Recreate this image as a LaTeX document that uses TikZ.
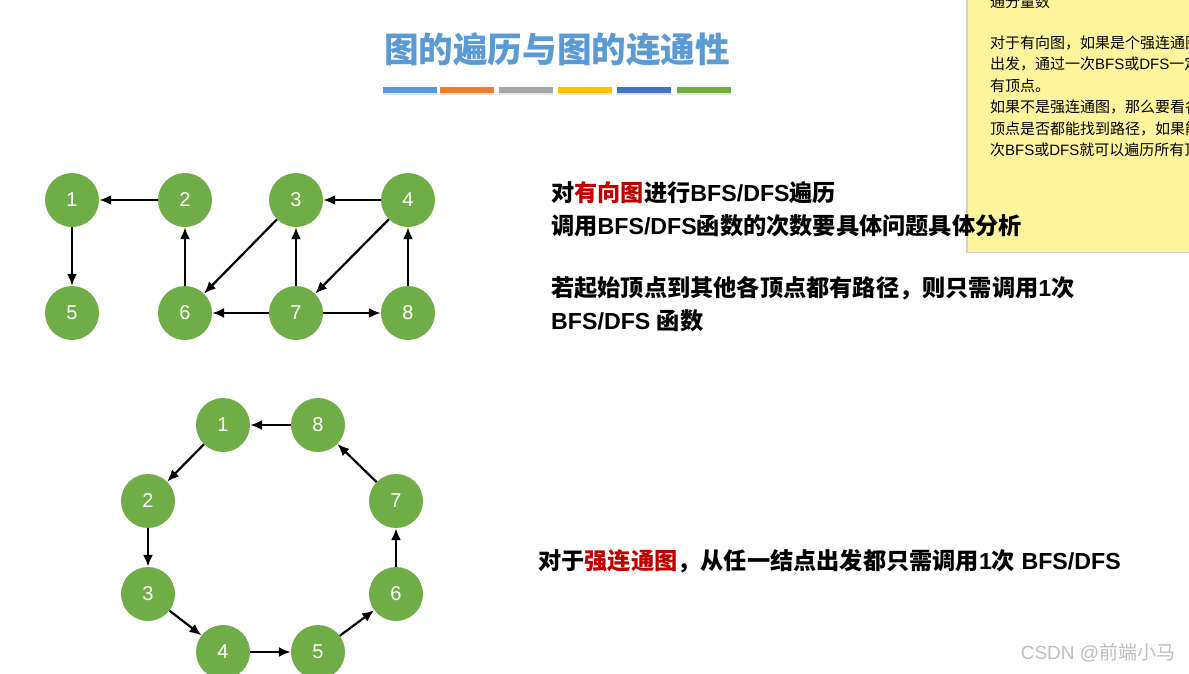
\documentclass[tikz,border=0pt]{standalone}
\usepackage{fontspec}
\setmainfont{Liberation Sans}
\newfontfamily\cjk{Noto Sans CJK SC}
\usetikzlibrary{arrows.meta}
\definecolor{gcol}{HTML}{70AD47}
\definecolor{tblue}{HTML}{5B9BD5}
\definecolor{tred}{HTML}{C00000}
\definecolor{bara}{HTML}{5B9BD5}
\definecolor{barb}{HTML}{ED7D31}
\definecolor{barc}{HTML}{A5A5A5}
\definecolor{bard}{HTML}{FFC000}
\definecolor{bare}{HTML}{4472C4}
\definecolor{barf}{HTML}{70AD47}
\definecolor{notey}{RGB}{255,244,158}
\definecolor{wmark}{RGB}{190,190,190}
\newcommand{\zh}[1]{{\cjk #1}}
\tikzset{
  gnode/.style={circle, fill=gcol, minimum size=54pt, inner sep=0pt, text=white,
    font=\fontsize{20}{24}\selectfont},
  arr/.style={-{Latex[length=12pt,width=10pt]}, line width=2.2pt, black},
  bodytext/.style={anchor=west, inner sep=0pt, font=\fontsize{23.2}{28}\selectfont\bfseries},
  notetext/.style={anchor=west, inner sep=0pt, font=\fontsize{15}{18}\selectfont\cjk},
  cbar/.style={minimum width=54pt, minimum height=6pt, inner sep=0pt},
}
\begin{document}
\begin{tikzpicture}[x=1pt,y=-1pt]
\useasboundingbox (0,0) rectangle (1189,673);
\fill[white] (0,0) rectangle (1189,673);

% title
\node[font=\fontsize{34.6}{40}\selectfont\cjk\bfseries, text=tblue, inner sep=0pt] (title) at (557,49) {图的遍历与图的连通性};

% colour bars
\foreach \i/\x/\c in {1/409.5/bara,2/467/barb,3/526/barc,4/585/bard,5/644/bare,6/703.5/barf}{
  \fill[black!10] (\x-27,88) rectangle (\x+27,95);
  \node[cbar, fill=\c] (bar\i) at (\x,89.5) {};
}

% sticky note
\fill[black!18] (966,0) rectangle (1189,253);
\fill[notey] (968,0) rectangle (1189,252);
\begin{scope}
\clip (968,0) rectangle (1189,252);
\node[notetext] (nl1) at (990,2) {通分量数};
\node[notetext] (nl2) at (990,42.5) {对于有向图，如果是个强连通图};
\node[notetext] (nl3) at (990,64) {出发，通过一次{\fontspec{Liberation Sans}BFS}或{\fontspec{Liberation Sans}DFS}一定};
\node[notetext] (nl4) at (990,85.5) {有顶点。};
\node[notetext] (nl5) at (990,107) {如果不是强连通图，那么要看各};
\node[notetext] (nl6) at (990,128.5) {顶点是否都能找到路径，如果能};
\node[notetext] (nl7) at (990,150) {次{\fontspec{Liberation Sans}BFS}或{\fontspec{Liberation Sans}DFS}就可以遍历所有顶};
\end{scope}

% graph 1
\node[gnode] (a1) at (72,200) {1};
\node[gnode] (a2) at (185,200) {2};
\node[gnode] (a3) at (296,200) {3};
\node[gnode] (a4) at (408,200) {4};
\node[gnode] (a5) at (72,313) {5};
\node[gnode] (a6) at (185,313) {6};
\node[gnode] (a7) at (296,313) {7};
\node[gnode] (a8) at (408,313) {8};
\draw[arr] (a2) -- (a1);
\draw[arr] (a1) -- (a5);
\draw[arr] (a6) -- (a2);
\draw[arr] (a3) -- (a6);
\draw[arr] (a4) -- (a3);
\draw[arr] (a4) -- (a7);
\draw[arr] (a7) -- (a3);
\draw[arr] (a7) -- (a6);
\draw[arr] (a7) -- (a8);
\draw[arr] (a8) -- (a4);

% graph 2
\node[gnode] (b1) at (223,425) {1};
\node[gnode] (b8) at (318,425) {8};
\node[gnode] (b2) at (148,501) {2};
\node[gnode] (b7) at (396,501) {7};
\node[gnode] (b3) at (148,594) {3};
\node[gnode] (b6) at (396,594) {6};
\node[gnode] (b4) at (223,652) {4};
\node[gnode] (b5) at (318,652) {5};
\draw[arr] (b8) -- (b1);
\draw[arr] (b1) -- (b2);
\draw[arr] (b2) -- (b3);
\draw[arr] (b3) -- (b4);
\draw[arr] (b4) -- (b5);
\draw[arr] (b5) -- (b6);
\draw[arr] (b6) -- (b7);
\draw[arr] (b7) -- (b8);

% body text
\node[bodytext] (t1) at (551,193) {\zh{对}\textcolor{tred}{\zh{有向图}}\zh{进行}BFS/DFS\zh{遍历}};
\node[bodytext] (t2) at (551,225.5) {\zh{调用}BFS/DFS\zh{函数的次数要具体问题具体分析}};
\node[bodytext] (t3) at (551,288.5) {\zh{若起始顶点到其他各顶点都有路径，则只需调用}1\zh{次}};
\node[bodytext] (t4) at (551,320.5) {BFS/DFS \zh{函数}};
\node[bodytext] (t5) at (538,561) {\zh{对于}\textcolor{tred}{\zh{强连通图}}\zh{，从任一结点出发都只需调用}1\zh{次} BFS/DFS};

% watermark
\node[inner sep=0pt, text=wmark, font=\fontsize{19}{22}\selectfont] (wm) at (1098,653) {CSDN @\zh{前端小马}};
\end{tikzpicture}
\end{document}
